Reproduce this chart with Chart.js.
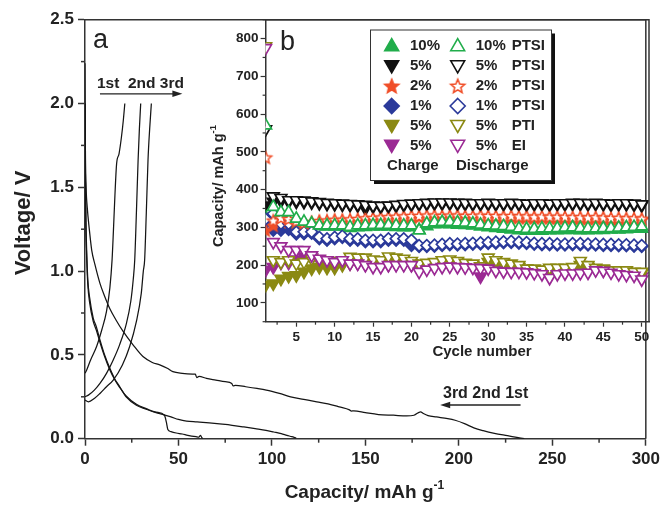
<!DOCTYPE html>
<html><head><meta charset="utf-8">
<script src="https://cdn.jsdelivr.net/npm/chart.js@4.4.1/dist/chart.umd.min.js"></script>
<style>
html,body{margin:0;padding:0;background:#fff;}
#wrap{position:relative;width:663px;height:505px;overflow:hidden;background:#fff;}
#main{position:absolute;left:0;top:0;width:663px;height:505px;}
#inset{position:absolute;left:190px;top:0;width:473px;height:370px;}
</style></head><body>
<div id="wrap"><canvas id="main" width="663" height="505"></canvas><canvas id="inset" width="473" height="370"></canvas></div>
<script>
// ---------- Panel (a): voltage profiles ----------
const d1x = [0,0.2,0.6,1.2,2.3,3.6,5.3,8.0,10.5,13.3,16.5,20.4,25.7,31,36,40,44,47,52,57.5,59,59.8,61,65,70,75,78.5,79.2,80.5,86,92,97,104,110,117,124,130,136,141.5,142.5,143.8,150,157,165,172,176,179.5,181,183.5,188,194,198,203,208,213,219,226,231,235];
const d1y = [2.24,1.75,1.5,1.38,1.25,1.124,1.04,0.927,0.85,0.775,0.71,0.64,0.56,0.49,0.455,0.44,0.42,0.40,0.39,0.386,0.385,0.365,0.372,0.36,0.35,0.34,0.33,0.315,0.318,0.31,0.30,0.29,0.27,0.25,0.235,0.22,0.208,0.19,0.172,0.165,0.166,0.155,0.144,0.14,0.136,0.14,0.16,0.15,0.138,0.13,0.12,0.11,0.09,0.065,0.048,0.032,0.018,0.008,0.0];
const d2x = [0,0.2,0.5,0.9,1.5,2.5,4.4,6,8,10.5,13.3,16,18.6,22,27.5,33,38,41.5,46,50,54.3,60,66.5,72,78.7,85,91,96.8,101,105,108,110.6,113];
const d2y = [2.0,1.6,1.3,1.12,0.95,0.84,0.72,0.67,0.59,0.50,0.42,0.355,0.31,0.25,0.20,0.175,0.155,0.145,0.13,0.115,0.105,0.10,0.094,0.088,0.08,0.07,0.06,0.05,0.04,0.03,0.02,0.012,0.004];
const d3x = [0,0.2,0.5,0.9,1.5,2.5,4.4,6,8,10.5,13.3,16,18.6,22,27.5,33,38,42.5,43.5,44.3,46,48.8,52,55,59.4,61,61.8,62.5,63];
const d3y = [2.0,1.55,1.25,1.08,0.92,0.81,0.70,0.65,0.575,0.49,0.41,0.35,0.305,0.255,0.205,0.178,0.158,0.14,0.10,0.055,0.042,0.034,0.028,0.02,0.012,0.01,0.02,0.006,0.0];
const c1x = [0,0.9,3,6.2,9,11.5,13.3,14.5,15.2,16.0,16.9,18.2,19.5,20.5,21.3];
const c1y = [0.39,0.41,0.47,0.55,0.65,0.76,0.90,1.07,1.24,1.45,1.64,1.70,1.80,1.90,2.0];
const c2x = [0,1.8,5,8,11.5,15.1,18.5,22.2,24.5,25.8,26.6,27.5,28.4,29.1,29.8];
const c2y = [0.25,0.26,0.29,0.33,0.39,0.47,0.56,0.69,0.82,0.95,1.066,1.35,1.66,1.85,2.0];
const c3x = [0,1.8,5,8,11.5,15.1,20,23.9,27.5,30.1,31.2,31.9,32.8,33.7,34.6,35.5];
const c3y = [0.23,0.22,0.24,0.27,0.31,0.35,0.44,0.55,0.70,0.867,1.0,1.066,1.35,1.66,1.85,2.0];

// ---------- Panel (b): capacity vs cycle ----------
const cycles = [1,2,3,4,5,6,7,8,9,10,11,12,13,14,15,16,17,18,19,20,21,22,23,24,25,26,27,28,29,30,31,32,33,34,35,36,37,38,39,40,41,42,43,44,45,46,47,48,49,50];
const g10c = [327,327,325,318,310,306,305,303,302,302,302,298,300,301,302,302,302,301,300,300,292,303,308,309,308,307,306,305,302,300,298,296,294,292,291,291,291,292,292,293,293,292,292,293,293,294,294,295,296,296];
const g10d = [570,354,340,340,323,315,310,305,305,305,305,301,305,305,306,306,306,305,305,305,292,310,313,314,314,313,312,310,307,305,304,303,301,297,296,296,297,297,298,299,300,298,297,297,298,298,299,300,301,302];
const b5c = [358,368,370,368,368,367,366,364,362,361,360,359,358,350,355,354,355,357,359,360,361,362,363,363,363,362,362,361,361,362,361,361,362,361,360,361,361,360,361,361,362,362,361,362,361,360,361,361,360,358];
const b5d = [560,382,378,372,372,371,369,367,365,364,363,362,361,360,358,357,358,360,362,363,364,365,366,366,366,365,365,364,364,365,364,364,365,364,363,364,364,363,364,364,365,365,364,365,364,363,364,364,363,361];
const o2c = [292,305,315,318,313,308,311,314,315,317,317,318,319,321,322,323,324,325,326,327,327,328,328,327,328,328,327,327,328,327,327,326,327,326,326,325,326,325,325,325,324,324,323,324,323,322,322,321,321,320];
const o2d = [485,318,325,322,316,312,314,317,318,320,320,321,322,324,325,326,327,328,329,330,330,331,331,330,331,331,330,330,331,330,330,329,330,329,329,328,329,328,328,328,327,327,326,327,326,325,325,324,324,323];
const bl1c = [310,292,292,294,282,283,284,270,266,270,273,266,266,262,262,262,266,266,266,252,249,249,250,252,254,253,254,255,256,257,258,259,260,258,257,255,254,254,253,253,254,254,253,253,252,252,251,251,250,249];
const bl1d = [322,336,310,310,288,288,288,274,270,274,277,270,270,266,266,266,270,270,270,266,252,252,253,255,257,256,257,258,259,260,261,262,263,261,260,258,257,257,256,256,257,257,256,256,255,255,254,254,253,252];
const ol5c = [147,151,164,171,173,182,191,195,193,193,200,205,208,210,208,206,210,210,208,205,200,201,203,206,208,206,203,200,195,208,206,203,199,195,190,189,186,189,189,189,190,200,195,190,188,184,183,183,180,178];
const ol5d = [780,213,208,213,204,208,217,215,213,211,208,222,220,220,215,213,223,220,217,211,204,206,208,213,215,211,206,204,197,220,213,208,204,200,191,191,188,193,193,193,195,211,200,193,191,186,186,186,182,182];
const p5c = [187,195,206,206,215,223,220,212,211,208,210,206,205,202,199,198,201,202,202,201,192,193,196,198,199,198,197,196,170,194,190,188,187,186,185,183,182,178,181,182,182,183,184,188,188,184,181,179,177,170];
const p5d = [775,261,250,240,240,240,226,217,213,208,213,204,204,200,195,195,200,200,200,200,182,188,192,195,196,195,194,193,192,191,185,183,182,182,181,179,176,166,176,178,178,179,180,186,185,180,176,174,172,162];

const legendRows = [
  {c:'10%', d:'10%', s:'PTSI'},
  {c:'5%', d:'5%', s:'PTSI'},
  {c:'2%', d:'2%', s:'PTSI'},
  {c:'1%', d:'1%', s:'PTSI'},
  {c:'5%', d:'5%', s:'PTI'},
  {c:'5%', d:'5%', s:'EI'}
];

// ---------- styling ----------
const F = '"Liberation Sans", Arial, Helvetica, sans-serif';
const AX = '#333333', TXT = '#222222';
const GREEN='#21ad4b', BLACK='#111111', ORANGE='#f04e28', BLUE='#2b3a9a', OLIVE='#8b8913', PURPLE='#9b2a94';
Chart.defaults.font.family = F;
Chart.defaults.color = TXT;

function zip(xs, ys){ return xs.map((v,i)=>({x:v, y:ys[i]})); }
function isMult(v, m){ const r = v/m; return Math.abs(r-Math.round(r)) < 1e-6; }

function starCanvas(r, fill, stroke, lw){
  const s = Math.ceil(2*r + lw*2 + 2);
  const c = document.createElement('canvas'); c.width = s; c.height = s;
  const g = c.getContext('2d');
  g.translate(s/2, s/2+0.6);
  g.beginPath();
  for (let i=0;i<10;i++){
    const rr = i%2===0 ? r : r*0.45;
    const a = -Math.PI/2 + i*Math.PI/5;
    const px = rr*Math.cos(a), py = rr*Math.sin(a);
    if (i===0) g.moveTo(px,py); else g.lineTo(px,py);
  }
  g.closePath();
  g.fillStyle = fill; g.fill();
  g.lineWidth = lw; g.strokeStyle = stroke; g.lineJoin='miter'; g.stroke();
  return c;
}

function text(ctx, s, x, y, size, weight, align, base){
  ctx.font = weight + ' ' + size + 'px ' + F;
  ctx.textAlign = align || 'left';
  ctx.textBaseline = base || 'alphabetic';
  ctx.fillStyle = TXT;
  ctx.fillText(s, x, y);
}
function arrow(ctx, x1, y, x2){
  const dir = x2 > x1 ? 1 : -1;
  ctx.save();
  ctx.strokeStyle = '#222'; ctx.fillStyle = '#222'; ctx.lineWidth = 1.3;
  ctx.beginPath(); ctx.moveTo(x1, y); ctx.lineTo(x2 - dir*6, y); ctx.stroke();
  ctx.beginPath(); ctx.moveTo(x2, y); ctx.lineTo(x2 - dir*10, y - 3.2); ctx.lineTo(x2 - dir*10, y + 3.2); ctx.closePath(); ctx.fill();
  ctx.restore();
}
function hline(ctx,x1,y1,x2,y2){ ctx.beginPath(); ctx.moveTo(x1,y1); ctx.lineTo(x2,y2); ctx.stroke(); }

// ---------- main chart ----------
const lineDs = (label, xs, ys) => ({label, data: zip(xs, ys), borderColor:'#151515', borderWidth:1.25, pointRadius:0, fill:false, cubicInterpolationMode:'monotone'});

const mainDeco = {
  id:'mainDeco',
  afterDraw(chart){
    const {ctx, chartArea:a} = chart; const x = chart.scales.x, y = chart.scales.y;
    ctx.save();
    ctx.strokeStyle = AX; ctx.lineWidth = 1.5;
    ctx.beginPath(); ctx.moveTo(a.left, a.top); ctx.lineTo(a.right, a.top); ctx.lineTo(a.right, a.bottom); ctx.stroke();
    x.ticks.forEach(t => { if (!isMult(t.value,50)) { const p = x.getPixelForValue(t.value); hline(ctx,p,a.bottom,p,a.bottom+4); } });
    y.ticks.forEach(t => { if (!isMult(t.value,0.5)) { const p = y.getPixelForValue(t.value); hline(ctx,a.left,p,a.left-4,p); } });
    // annotations
    text(ctx, 'a', x.getPixelForValue(4.3), y.getPixelForValue(2.33), 27, 'normal');
    text(ctx, '1st  2nd 3rd', x.getPixelForValue(6.4), y.getPixelForValue(2.09), 15.5, 'bold');
    arrow(ctx, x.getPixelForValue(8.0), y.getPixelForValue(2.058), x.getPixelForValue(52.1));
    text(ctx, '3rd 2nd 1st', x.getPixelForValue(191.5), y.getPixelForValue(0.243), 16, 'bold');
    arrow(ctx, x.getPixelForValue(233), y.getPixelForValue(0.201), x.getPixelForValue(190));
    // x title with superscript
    ctx.font = 'bold 19px ' + F; const w1 = ctx.measureText('Capacity/ mAh g').width;
    ctx.font = 'bold 12px ' + F; const w2 = ctx.measureText('-1').width;
    const cx = (a.left + a.right)/2 - 1; const sx = cx - (w1 + w2)/2;
    text(ctx, 'Capacity/ mAh g', sx, 498, 19, 'bold');
    text(ctx, '-1', sx + w1, 489, 12, 'bold');
    // y title
    ctx.save(); ctx.translate(29.5, 223); ctx.rotate(-Math.PI/2);
    text(ctx, 'Voltage/ V', 0, 0, 22, 'bold', 'center');
    ctx.restore();
    ctx.restore();
  }
};

new Chart(document.getElementById('main'), {
  type:'line',
  data:{ datasets:[
    lineDs('1st discharge', d1x, d1y), lineDs('2nd discharge', d2x, d2y), lineDs('3rd discharge', d3x, d3y),
    lineDs('1st charge', c1x, c1y), lineDs('2nd charge', c2x, c2y), lineDs('3rd charge', c3x, c3y)
  ]},
  options:{
    responsive:false, animation:false, devicePixelRatio:1,
    layout:{padding:{top:19.7, right:14, left:0, bottom:0}},
    plugins:{legend:{display:false}, tooltip:{enabled:false}},
    scales:{
      x:{ type:'linear', min:0, max:300,
        border:{display:true, color:AX, width:1.5},
        grid:{display:true, drawOnChartArea:false, drawTicks:true, tickLength:7, tickWidth:1.5,
              tickColor: c => (c.tick && isMult(c.tick.value,50)) ? AX : 'rgba(0,0,0,0)'},
        ticks:{stepSize:25, autoSkip:false, maxRotation:0, includeBounds:false, padding:3, color:TXT, font:{size:17, weight:'bold'},
               callback: v => isMult(v,50) ? String(v) : ''},
        afterFit(s){ s.height = 505 - 438.7; }
      },
      y:{ type:'linear', min:0, max:2.5,
        border:{display:true, color:AX, width:1.5},
        grid:{display:true, drawOnChartArea:false, drawTicks:true, tickLength:7, tickWidth:1.5,
              tickColor: c => (c.tick && isMult(c.tick.value,0.5)) ? AX : 'rgba(0,0,0,0)'},
        ticks:{stepSize:0.25, autoSkip:false, includeBounds:false, padding:4, color:TXT, font:{size:17, weight:'bold'},
               callback: v => isMult(v,0.5) ? v.toFixed(1) : ''},
        afterFit(s){ s.width = 85; }
      }
    }
  },
  plugins:[mainDeco]
});

// ---------- inset chart ----------
const starOpen = starCanvas(6.3, '#ffffff', ORANGE, 1.5);
const starFull = starCanvas(6.3, ORANGE, ORANGE, 1.5);
const starOpenL = starCanvas(7.3, '#ffffff', ORANGE, 1.6);
const starFullL = starCanvas(7.3, ORANGE, ORANGE, 1.6);

function sc(label, vals, color, style, rot, filled, radius, order){
  return {label, data: zip(cycles, vals), showLine:false, order,
    pointStyle: style, rotation: rot, pointRadius: radius,
    pointBackgroundColor: filled ? color : '#ffffff', pointBorderColor: color, pointBorderWidth: 1.7};
}
const insetSets = [
  sc('10% PTSI charge', g10c, GREEN, 'triangle', 0, true, 6.8, 2),
  sc('5% PTSI charge', b5c, BLACK, 'triangle', 180, true, 6.8, 2),
  sc('2% PTSI charge', o2c, ORANGE, starFull, 0, true, 6.5, 2),
  sc('1% PTSI charge', bl1c, BLUE, 'rectRot', 0, true, 5.8, 2),
  sc('5% PTI charge', ol5c, OLIVE, 'triangle', 180, true, 6.8, 2),
  sc('5% EI charge', p5c, PURPLE, 'triangle', 180, true, 6.8, 2),
  sc('10% PTSI discharge', g10d, GREEN, 'triangle', 0, false, 6.8, 1),
  sc('5% PTSI discharge', b5d, BLACK, 'triangle', 180, false, 6.8, 1),
  sc('2% PTSI discharge', o2d, ORANGE, starOpen, 0, false, 6.5, 1),
  sc('1% PTSI discharge', bl1d, BLUE, 'rectRot', 0, false, 5.8, 1),
  sc('5% PTI discharge', ol5d, OLIVE, 'triangle', 180, false, 6.8, 1),
  sc('5% EI discharge', p5d, PURPLE, 'triangle', 180, false, 6.8, 0)
];

function legendMarker(ctx, ds, x, y){
  const filled = ds.pointBackgroundColor !== '#ffffff';
  const color = ds.pointBorderColor;
  if (typeof ds.pointStyle !== 'string'){
    const img = filled ? starFullL : starOpenL;
    ctx.drawImage(img, x - img.width/2, y - img.height/2); return;
  }
  const r = ds.pointStyle === 'rectRot' ? 7.5 : 8;
  ctx.save();
  ctx.lineWidth = 1.6; ctx.strokeStyle = color; ctx.fillStyle = filled ? color : '#ffffff';
  ctx.beginPath();
  if (ds.pointStyle === 'rectRot'){
    ctx.moveTo(x, y-r); ctx.lineTo(x+r, y); ctx.lineTo(x, y+r); ctx.lineTo(x-r, y); ctx.closePath();
  } else {
    const s = ds.rotation === 180 ? -1 : 1;
    const yc = y + s*1.2;
    for (let k=0;k<3;k++){ const an = k*2*Math.PI/3; const px = x + Math.sin(an)*r, py = yc - s*Math.cos(an)*r; if(k) ctx.lineTo(px,py); else ctx.moveTo(px,py); }
    ctx.closePath();
  }
  ctx.fill(); ctx.stroke(); ctx.restore();
}

const insetDeco = {
  id:'insetDeco',
  afterDraw(chart){
    const {ctx, chartArea:a} = chart; const x = chart.scales.x, y = chart.scales.y;
    ctx.save();
    ctx.strokeStyle = AX; ctx.lineWidth = 1.5;
    ctx.beginPath(); ctx.moveTo(a.left, a.top); ctx.lineTo(a.right, a.top); ctx.lineTo(a.right, a.bottom); ctx.stroke();
    ctx.lineWidth = 1.2;
    x.ticks.forEach(t => { if (!isMult(t.value,5)) { const p = x.getPixelForValue(t.value); hline(ctx,p,a.bottom,p,a.bottom+3); } });
    y.ticks.forEach(t => { if (!isMult(t.value,100)) { const p = y.getPixelForValue(t.value); hline(ctx,a.left,p,a.left-3,p); } });
    text(ctx, 'b', x.getPixelForValue(2.88), y.getPixelForValue(770), 27, 'normal');
    // x title
    text(ctx, 'Cycle number', 292, 356, 15, 'bold', 'center');
    // y title with superscript
    ctx.save(); ctx.translate(32.5, 186); ctx.rotate(-Math.PI/2);
    ctx.font = 'bold 14.5px ' + F; const w1 = ctx.measureText('Capacity/ mAh g').width;
    ctx.font = 'bold 9.5px ' + F; const w2 = ctx.measureText('-1').width;
    const sx = -(w1+w2)/2;
    text(ctx, 'Capacity/ mAh g', sx, 0, 14.5, 'bold');
    text(ctx, '-1', sx + w1, -6.5, 9.5, 'bold');
    ctx.restore();
    // legend
    const bx = 180, by = 29.5, bw = 181, bh = 150.5;
    ctx.fillStyle = '#111'; ctx.fillRect(bx+4, by+4, bw, bh);
    ctx.fillStyle = '#fff'; ctx.fillRect(bx, by, bw, bh);
    ctx.strokeStyle = '#333'; ctx.lineWidth = 1; ctx.strokeRect(bx+0.5, by+0.5, bw, bh);
    const rowsY = [45.5, 66, 86, 106, 125.7, 145.5];
    legendRows.forEach((row, i) => {
      const yy = rowsY[i];
      legendMarker(ctx, insetSets[i], 201.7, yy);
      text(ctx, row.c, 220, yy, 15, 'bold', 'left', 'middle');
      legendMarker(ctx, insetSets[i+6], 267.7, yy);
      text(ctx, row.d, 285.7, yy, 15, 'bold', 'left', 'middle');
      text(ctx, row.s, 321.7, yy, 15, 'bold', 'left', 'middle');
    });
    text(ctx, 'Charge', 197, 165.5, 15, 'bold', 'left', 'middle');
    text(ctx, 'Discharge', 266, 165.5, 15, 'bold', 'left', 'middle');
    ctx.restore();
  }
};

new Chart(document.getElementById('inset'), {
  type:'scatter',
  data:{ datasets: insetSets },
  options:{
    responsive:false, animation:false, devicePixelRatio:1,
    layout:{padding:{top:19.7, right:14, left:0, bottom:0}},
    plugins:{legend:{display:false}, tooltip:{enabled:false}},
    scales:{
      x:{ type:'linear', min:1, max:50.95,
        border:{display:true, color:AX, width:1.5},
        grid:{display:true, drawOnChartArea:false, drawTicks:true, tickLength:5, tickWidth:1.2,
              tickColor: c => (c.tick && isMult(c.tick.value,5)) ? AX : 'rgba(0,0,0,0)'},
        ticks:{stepSize:2.5, autoSkip:false, maxRotation:0, includeBounds:false, padding:2, color:TXT, font:{size:13.5, weight:'bold'},
               callback: v => isMult(v,5) ? String(v) : ''},
        afterFit(s){ s.height = 370 - 321.7; }
      },
      y:{ type:'linear', min:50, max:850,
        border:{display:true, color:AX, width:1.5},
        grid:{display:true, drawOnChartArea:false, drawTicks:true, tickLength:5, tickWidth:1.2,
              tickColor: c => (c.tick && isMult(c.tick.value,100)) ? AX : 'rgba(0,0,0,0)'},
        ticks:{stepSize:50, autoSkip:false, includeBounds:false, padding:2, color:TXT, font:{size:13.5, weight:'bold'},
               callback: v => (isMult(v,100) && v < 850) ? String(v) : ''},
        afterFit(s){ s.width = 75.6; }
      }
    }
  },
  plugins:[insetDeco]
});
</script>
</body></html>
